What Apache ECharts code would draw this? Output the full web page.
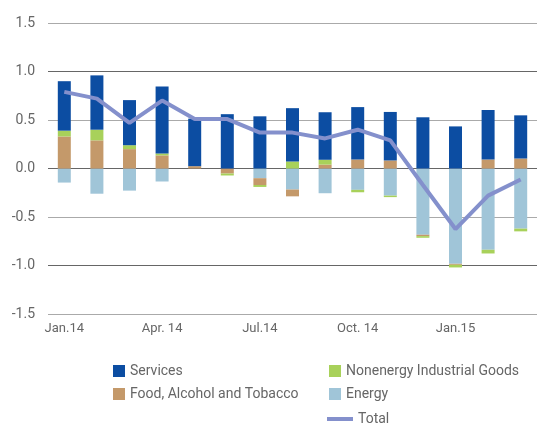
<!DOCTYPE html>
<html style="height: 100%">
<head>
    <meta charset="utf-8">
</head>
<body style="height: 100%; margin: 0; background: #fff">
    <div id="container" style="height: 100%"></div>
    <script type="text/javascript" src="https://cdn.jsdelivr.net/npm/echarts@6/dist/echarts.min.js"></script>
    <script type="text/javascript">
        var months = ['Jan.14', 'Feb.14', 'Mar.14', 'Apr. 14', 'May.14', 'Jun.14', 'Jul.14', 'Aug.14', 'Sep.14',
            'Oct. 14', 'Nov.14', 'Dec.14', 'Jan.15', 'Feb.15', 'Mar.15'];
        var energy = [-0.145, -0.26, -0.228, -0.134, 0, 0, -0.10, -0.217, -0.255, -0.22, -0.28, -0.683, -0.983, -0.838, -0.62];
        var food = [0.33, 0.29, 0.20, 0.135, 0.024, -0.052, -0.07, -0.07, 0.04, 0.093, 0.083, -0.014, -0.01, 0.093, 0.103];
        var nonenergy = [0.06, 0.11, 0.04, 0.02, 0, -0.02, -0.02, 0.072, 0.05, -0.025, -0.015, -0.017, -0.027, -0.038, -0.028];
        var services = [0.51, 0.56, 0.465, 0.69, 0.49, 0.56, 0.538, 0.55, 0.49, 0.54, 0.50, 0.528, 0.434, 0.51, 0.445];
        var total = [0.79, 0.72, 0.47, 0.70, 0.51, 0.51, 0.37, 0.37, 0.31, 0.40, 0.29, -0.17, -0.624, -0.28, -0.114];

        var dom = document.getElementById("container");
        var myChart = echarts.init(dom);
        var textColor = '#666';
        var font = 'Roboto';

        function bar(name, data, color) {
            return {
                name: name,
                type: 'bar',
                stack: 'all',
                barWidth: 13,
                itemStyle: { color: color },
                data: data
            };
        }

        var legendText = { color: textColor, fontSize: 14, fontFamily: font };

        var option = {
            animation: false,
            backgroundColor: '#fff',
            textStyle: { fontFamily: font },
            grid: { left: 48, right: 2, top: 23, bottom: 110 },
            legend: [{
                left: 108,
                top: 359,
                orient: 'vertical',
                itemGap: 9,
                itemWidth: 12,
                itemHeight: 12,
                itemStyle: {},
                textStyle: legendText,
                data: [{ name: 'Services', icon: 'rect' }, { name: 'Food, Alcohol and Tobacco', icon: 'rect' }]
            }, {
                left: 324,
                top: 359,
                orient: 'vertical',
                itemGap: 9,
                itemWidth: 12,
                itemHeight: 12,
                textStyle: legendText,
                data: [{ name: 'Nonenergy Industrial Goods', icon: 'rect' }, { name: 'Energy', icon: 'rect' }]
            }, {
                left: 322,
                top: 407,
                itemWidth: 26,
                itemHeight: 4,
                textStyle: legendText,
                data: [{ name: 'Total', icon: 'rect' }]
            }],
            xAxis: {
                type: 'category',
                data: months,
                axisLine: { show: false },
                axisTick: { show: false },
                axisLabel: {
                    color: textColor,
                    fontSize: 13,
                    margin: 8,
                    interval: 2
                }
            },
            yAxis: {
                type: 'value',
                min: -1.5,
                max: 1.5,
                interval: 0.5,
                axisLine: { show: false },
                axisTick: { show: false },
                axisLabel: {
                    color: textColor,
                    fontSize: 14,
                    margin: 13,
                    formatter: function(v) { return v.toFixed(1); }
                },
                splitLine: { lineStyle: { color: ['#aaa', '#666'], width: 1.2 } }
            },
            series: [
                bar('Energy', energy, '#a0c5d8'),
                bar('Food, Alcohol and Tobacco', food, '#c4996a'),
                bar('Nonenergy Industrial Goods', nonenergy, '#a8d15a'),
                bar('Services', services, '#0c4da2'),
                {
                    name: 'Total',
                    type: 'line',
                    data: total,
                    symbol: 'none',
                    lineStyle: { color: '#8490cc', width: 4 },
                    itemStyle: { color: '#8490cc' },
                    z: 5
                }
            ]
        };
        myChart.setOption(option);
    </script>
</body>
</html>
